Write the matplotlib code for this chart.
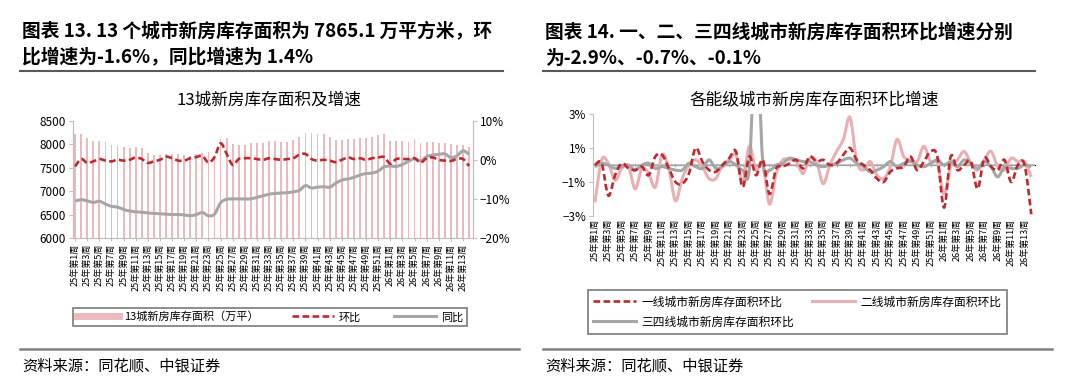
import numpy as np
import matplotlib.pyplot as plt
from matplotlib.path import Path
from matplotlib.patches import PathPatch
from matplotlib.lines import Line2D

plt.rcParams['font.family'] = ['Noto Sans CJK SC', 'DejaVu Sans']

# 周次：25年第1-52周，26年第1-14周
weeks = [f"25年第{i}周" for i in range(1, 53)] + [f"26年第{i}周" for i in range(1, 15)]

# 13城新房库存面积（万平）
inventory = [8225, 8225, 8140, 8070, 8070, 8050, 7985, 7970, 7930, 7915,
             7950, 7915, 7815, 7770, 7770, 7800, 7800, 7790, 7770, 7755,
             7790, 7820, 7840, 7760, 8105, 8130, 8000, 7990, 7990, 8015,
             8015, 8035, 8070, 8070, 8056, 8056, 8085, 8155, 8246, 8232,
             8225, 8212, 8155, 8085, 8085, 8106, 8106, 8140, 8140, 8155,
             8197, 8225, 8070, 8070, 8070, 8056, 8100, 8028, 8056, 8056,
             8035, 8035, 8000, 7986, 7986, 7950]
# 环比 %
mom = [-1.7, 0.2, -0.8, -0.4, 0.2, -0.2, -0.4, 0.0, -0.2, 0.0,
       0.6, 0.2, -0.8, -0.4, 0.0, 0.8, 0.4, -0.2, -0.2, 0.4,
       0.7, 1.0, -0.7, 0.7, 4.2, 1.5, -1.3, 0.2, 0.4, 0.4,
       0.2, 0.0, 0.4, 0.2, 0.0, 0.2, 0.4, 1.3, 1.5, 0.2,
       -0.2, 0.0, -0.2, -0.6, 0.0, 0.6, 0.2, 0.4, 0.0, 0.4,
       0.6, 0.7, -1.0, 0.2, 0.2, 0.2, 0.4, -0.7, 0.4, 0.6,
       0.0, -0.2, -0.3, 0.2, 0.2, -1.6]
# 同比 %
yoy = [-10.6, -10.2, -10.5, -10.9, -10.6, -11.3, -11.9, -12.1, -12.7, -13.1,
       -13.3, -13.4, -13.6, -13.7, -13.8, -13.9, -14.0, -14.0, -14.1, -14.3,
       -14.0, -13.5, -14.3, -13.9, -11.0, -10.1, -10.0, -10.0, -10.0, -10.0,
       -9.6, -9.2, -8.8, -8.6, -8.5, -8.4, -8.2, -7.8, -6.6, -7.2,
       -7.0, -6.9, -7.0, -6.0, -5.2, -4.9, -4.5, -3.9, -3.5, -3.4,
       -2.9, -1.8, -1.6, -1.7, -1.2, -0.4, 0.3, -0.3, 0.8, 1.2,
       1.4, 1.5, 0.6, 1.0, 2.3, 1.4]

# 各能级城市新房库存面积环比 %
tier1 = [0.0, 0.1, -1.8, -0.6, 0.1, -0.2, -0.3, -0.1, -0.6, 0.5,
         0.6, -0.2, -1.0, -1.1, -0.5, 1.0, 0.2, -0.3, -0.4, 0.0,
         0.4, 0.8, -1.3, 0.5, -0.6, 0.3, -1.7, -0.2, -0.1, 0.1,
         0.3, -0.2, 0.5, 0.2, 0.3, 0.0, 0.1, 0.6, 1.0, 0.3,
         0.0, -0.3, -0.8, -1.0, -0.4, -0.2, -0.1, 0.5, -0.3, 0.2,
         0.8, 0.5, -2.5, 0.5, -0.3, 0.0, 0.2, -1.4, 0.4, -0.1,
         -0.3, 0.3, -1.0, 0.0, 0.0, -2.9]
tier2 = [-2.2, 0.3, 0.1, -0.9, -0.2, -0.1, -1.4, -0.2, -0.5, -1.3,
         0.6, -0.2, -2.1, -0.8, 0.0, 0.3, -0.1, -0.8, -0.8, 0.0,
         0.3, 0.6, -1.0, 1.1, -0.3, 0.1, -2.3, -0.5, 0.3, 0.3,
         0.2, -0.5, 0.4, 0.2, -1.1, 0.0, 0.8, 1.5, 2.8, 0.2,
         -0.3, 0.2, -0.6, -0.8, -0.1, 1.5, 0.5, 0.3, 0.2, 1.1,
         0.2, 0.1, -1.7, -0.1, 0.3, 0.8, 0.1, -0.3, 0.3, 0.8,
         -0.1, -0.3, 0.4, 0.2, 0.2, -0.7]
tier34 = [-0.1, 0.1, 0.0, -0.2, -0.1, 0.0, -0.3, 0.0, 0.1, -0.2,
          -0.1, -0.2, -0.3, -0.3, 0.1, -0.1, -0.2, 0.3, -0.2, -0.1,
          0.2, 0.0, -0.3, -0.2, 8.0, 0.2, -0.3, 0.0, 0.1, 0.4,
          0.3, 0.2, 0.2, 0.0, -0.1, 0.0, 0.1, 0.3, 0.4, 0.1,
          -0.1, -0.4, -0.3, -0.1, 0.2, -0.1, 0.1, 0.2, 0.0, -0.1,
          0.1, 0.3, 0.0, 0.2, -0.1, 0.3, 0.1, -0.2, 0.2, -0.1,
          -0.7, -0.1, -0.2, -0.2, 0.0, -0.1]

RED = '#C0282D'
PINK = '#E8B0B3'
BAR = '#EBBABD'
GRAY = '#A6A6A6'
AXC = '#BFBFBF'


def smooth_line(ax, y, **kw):
    # 平滑曲线（类似Excel平滑线），用贝塞尔路径画出
    x = np.arange(len(y))
    pts = np.column_stack([x, y]).astype(float)
    verts = [pts[0]]
    codes = [Path.MOVETO]
    n = len(pts)
    for i in range(n - 1):
        p0 = pts[max(i - 1, 0)]
        p1 = pts[i]
        p2 = pts[i + 1]
        p3 = pts[min(i + 2, n - 1)]
        verts += [p1 + (p2 - p0) / 6, p2 - (p3 - p1) / 6, p2]
        codes += [Path.CURVE4] * 3
    ax.add_patch(PathPatch(Path(verts, codes), fill=False, **kw))


fig = plt.figure(figsize=(10.8, 3.85), dpi=100)
x = np.arange(len(weeks))
tick_idx = x[::2][:33]
tick_lab = [weeks[i] for i in tick_idx]

# ---------------- 左图 ----------------
ax1 = fig.add_axes([0.0673, 0.3818, 0.3704, 0.3047])
ax1.bar(x, inventory, width=0.3, color=BAR, zorder=1)
ax1.set_ylim(6000, 8500)
ax1.set_yticks([6000, 6500, 7000, 7500, 8000, 8500])
ax1.set_xlim(-0.4, 65.6)
ax1.set_xticks(tick_idx)
ax1.set_xticklabels(tick_lab, rotation=90, fontsize=6.5)
ax1.tick_params(axis='y', labelsize=8.5, length=3, color=AXC, pad=2)
ax1.tick_params(axis='x', length=2, color=AXC, pad=2)
for s in ['top']:
    ax1.spines[s].set_visible(False)
for s in ['left', 'bottom', 'right']:
    ax1.spines[s].set_color(AXC)

ax2 = ax1.twinx()
ax2.set_ylim(-20, 10)
ax2.set_yticks([-20, -10, 0, 10])
ax2.set_yticklabels(['\u221220%', '\u221210%', '0%', '10%'])
ax2.tick_params(axis='y', labelsize=8.5, length=3, color=AXC, pad=2)
for s in ['top']:
    ax2.spines[s].set_visible(False)
for s in ['left', 'bottom', 'right']:
    ax2.spines[s].set_color(AXC)
smooth_line(ax2, yoy, edgecolor=GRAY, lw=2.2, zorder=3)
smooth_line(ax2, mom, edgecolor=RED, lw=1.9, linestyle=(0, (2.5, 1.3)), zorder=4)
ax2.set_ylim(-20, 10)

fig.text(0.249, 0.74, '13城新房库存面积及增速', ha='center', va='center', fontsize=12)

h1 = [Line2D([], [], color=BAR, lw=5),
      Line2D([], [], color=RED, lw=1.9, linestyle=(0, (2.5, 1.3))),
      Line2D([], [], color=GRAY, lw=2.2)]
leg1 = fig.legend(h1, ['13城新房库存面积（万平）', '环比', '同比'], ncol=3,
                  loc='center', bbox_to_anchor=(0.25, 0.1766), fontsize=8,
                  frameon=True, fancybox=False, edgecolor='#595959',
                  handlelength=3.8, columnspacing=3.0, borderpad=0.35,
                  handletextpad=0.4)
leg1.get_frame().set_linewidth(1.2)

# ---------------- 右图 ----------------
ax3 = fig.add_axes([0.549, 0.439, 0.409, 0.2649])
ax3.set_xlim(-0.3, 65.5)
ax3.set_ylim(-3, 3)
ax3.set_yticks([-3, -1, 1, 3])
ax3.set_yticklabels(['\u22123%', '\u22121%', '1%', '3%'])
ax3.tick_params(axis='y', labelsize=8.5, length=3, color=AXC, pad=2)
ax3.set_xticks(tick_idx)
ax3.set_xticklabels(tick_lab, rotation=90, fontsize=6.5)
ax3.tick_params(axis='x', length=0, pad=2)
for s in ['top', 'right', 'bottom']:
    ax3.spines[s].set_visible(False)
ax3.spines['left'].set_color(AXC)
ax3.axhline(0, color=AXC, lw=1.2, zorder=1)
sec = ax3.secondary_xaxis(0.5)
sec.set_xticks(tick_idx)
sec.set_xticklabels([])
sec.tick_params(length=3, direction='inout', color=AXC)
sec.spines['bottom'].set_visible(False)

smooth_line(ax3, tier2, edgecolor=PINK, lw=2.2, zorder=2)
smooth_line(ax3, tier34, edgecolor=GRAY, lw=2.2, zorder=3)
smooth_line(ax3, tier1, edgecolor=RED, lw=1.9, linestyle=(0, (2.5, 1.3)), zorder=4)
ax3.set_ylim(-3, 3)

fig.text(0.754, 0.74, '各能级城市新房库存面积环比增速', ha='center', va='center', fontsize=12)

h3 = [Line2D([], [], color=RED, lw=1.9, linestyle=(0, (2.5, 1.3))),
      Line2D([], [], color=GRAY, lw=2.2),
      Line2D([], [], color=PINK, lw=2.2)]
leg3 = fig.legend(h3, ['一线城市新房库存面积环比', '三四线城市新房库存面积环比', '二线城市新房库存面积环比'],
                  ncol=2, loc='center', bbox_to_anchor=(0.7384, 0.1896), fontsize=8.5,
                  frameon=True, fancybox=False, edgecolor='#595959',
                  handlelength=3.6, columnspacing=1.5, borderpad=0.45,
                  handletextpad=0.5, labelspacing=0.6)
leg3.get_frame().set_linewidth(1.2)

# ---------------- 标题与来源 ----------------
fig.text(22 / 1080, 1 - 32 / 385, '图表 13. 13 个城市新房库存面积为 7865.1 万平方米，环',
         ha='left', va='center', fontsize=13.5, fontweight='bold')
fig.text(22 / 1080, 1 - 58 / 385, '比增速为-1.6%，同比增速为 1.4%',
         ha='left', va='center', fontsize=13.5, fontweight='bold')
fig.text(545 / 1080, 1 - 32 / 385, '图表 14. 一、二、三四线城市新房库存面积环比增速分别',
         ha='left', va='center', fontsize=13.5, fontweight='bold')
fig.text(545 / 1080, 1 - 58 / 385, '为-2.9%、-0.7%、-0.1%',
         ha='left', va='center', fontsize=13.5, fontweight='bold')

for x0, x1 in [(20, 503), (543, 1035)]:
    fig.add_artist(Line2D([x0 / 1080, x1 / 1080], [1 - 71 / 385] * 2, color='#595959', lw=1.5))
for x0, x1 in [(20, 519), (543, 1052)]:
    fig.add_artist(Line2D([x0 / 1080, x1 / 1080], [1 - 349 / 385] * 2, color='#808080', lw=1.8))

fig.text(22 / 1080, 1 - 366 / 385, '资料来源：同花顺、中银证券', ha='left', va='center', fontsize=11)
fig.text(545 / 1080, 1 - 366 / 385, '资料来源：同花顺、中银证券', ha='left', va='center', fontsize=11)

fig.savefig('out.png', dpi=100)
